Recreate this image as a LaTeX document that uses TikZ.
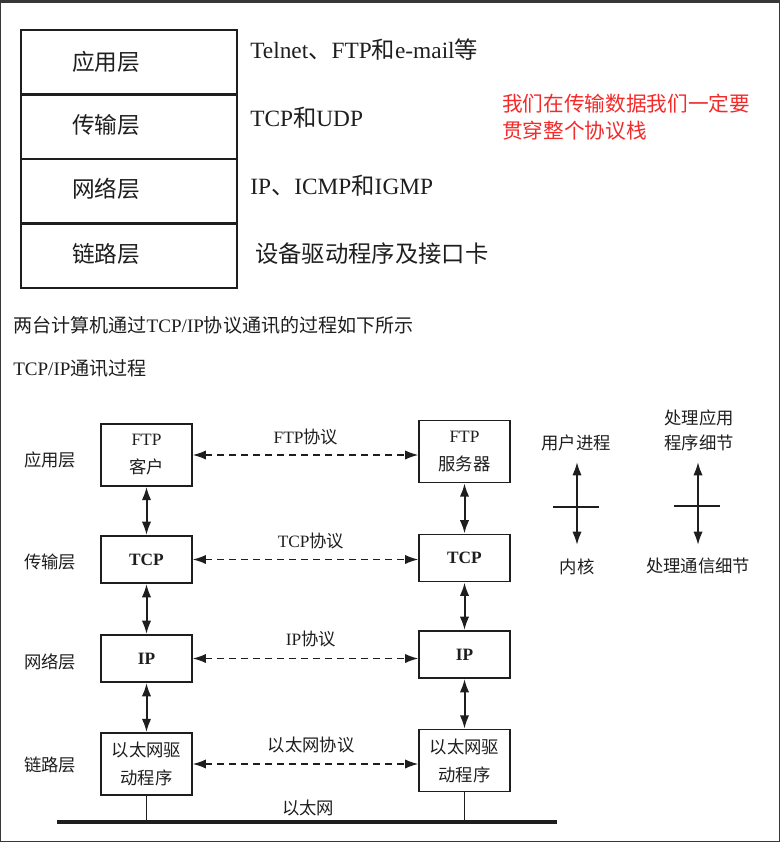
\documentclass[tikz,border=0pt]{standalone}
\usepackage{fontspec}
\setmainfont{Liberation Serif}
\newfontfamily\zh{Noto Sans CJK SC}
\usepackage{xcolor}
\usetikzlibrary{arrows.meta}
\definecolor{ink}{HTML}{1E1E1E}
\definecolor{note}{HTML}{F42A2A}
\definecolor{frame}{HTML}{383838}

\begin{document}
\begin{tikzpicture}[x=0.75pt,y=-0.75pt,
    cell/.style={draw=ink, line width=1.5pt, minimum width=162pt, minimum height=48.4pt, inner sep=0pt},
    lay/.style={text=ink, inner sep=0pt, font=\zh\fontsize{17}{20}\selectfont},
    desc/.style={text=ink, inner sep=0pt, anchor=west, font=\fontsize{17.5}{20}\selectfont},
    txt/.style={text=ink, inner sep=0pt, anchor=west, font=\fontsize{14.3}{18}\selectfont},
    small/.style={text=ink, inner sep=0pt, align=center, font=\fontsize{13}{19}\selectfont},
    box/.style={draw=ink, line width=1.2pt, minimum width=68pt, align=center, inner sep=0pt, text=ink, font=\fontsize{13}{21}\selectfont},
    tall/.style={box, minimum height=46.5pt},
    flat/.style={box, minimum height=35.5pt},
    updown/.style={ink, line width=1.5pt, {Latex[length=10pt,width=7pt]}-{Latex[length=10pt,width=7pt]}},
    proto/.style={ink, line width=1.3pt, dash pattern=on 5.5pt off 3.5pt, {Latex[length=10pt,width=7pt]}-{Latex[length=10pt,width=7pt]}}]
    \useasboundingbox (0,0) rectangle (780,842);
    \fill[frame] (0,0) rectangle (780,3);
    \draw[frame, line width=1.6pt] (0,0) rectangle (780,842);

    % layer stack
    \node[cell] (app) at (129,62.25) {};
    \node[cell] (trans) at (129,126.75) {};
    \node[cell] (net) at (129,191.25) {};
    \node[cell] (link) at (129,255.75) {};
    \node[lay] (appname) at (106,62) {应用层};
    \node[lay] (transname) at (106,125) {传输层};
    \node[lay] (netname) at (106,189) {网络层};
    \node[lay] (linkname) at (106,254) {链路层};
    \node[desc] (appdesc) at (250,50) {Telnet{\zh 、}FTP{\zh 和}e-mail{\zh 等}};
    \node[desc] (transdesc) at (250,118) {TCP{\zh 和}UDP};
    \node[desc] (netdesc) at (250,186) {IP{\zh 、}ICMP{\zh 和}IGMP};
    \node[desc] (linkdesc) at (255,254) {\zh 设备驱动程序及接口卡};

    \node[anchor=west, inner sep=0pt, align=left, text=note, font=\zh\fontsize{15.5}{20.3}\selectfont] (remark) at (502,117.5) {我们在传输数据我们一定要\\贯穿整个协议栈};

    \node[txt] (intro) at (13,325) {{\zh 两台计算机通过}TCP/IP{\zh 协议通讯的过程如下所示}};
    \node[txt] (title) at (13,368) {TCP/IP{\zh 通讯过程}};

    % two hosts
    \node[small] (l1) at (50,460) {\zh 应用层};
    \node[small] (l2) at (50,562) {\zh 传输层};
    \node[small] (l3) at (50,662) {\zh 网络层};
    \node[small] (l4) at (50,765) {\zh 链路层};

    \node[tall] (ftpc) at (146.5,455) {FTP\\{\zh 客户}};
    \node[flat] (tcpc) at (146.5,559.5) {\bfseries TCP};
    \node[flat] (ipc) at (146.5,658.5) {\bfseries IP};
    \node[tall] (ethc) at (146.5,764) {\zh 以太网驱\\\zh 动程序};

    \node[tall] (ftps) at (464.5,451.5) {FTP\\{\zh 服务器}};
    \node[flat] (tcps) at (464.5,558) {\bfseries TCP};
    \node[flat] (ips) at (464.5,654.5) {\bfseries IP};
    \node[tall] (eths) at (464.5,760.5) {\zh 以太网驱\\\zh 动程序};

    \draw[updown] (ftpc) -- (tcpc);
    \draw[updown] (tcpc) -- (ipc);
    \draw[updown] (ipc) -- (ethc);
    \draw[updown] (ftps) -- (tcps);
    \draw[updown] (tcps) -- (ips);
    \draw[updown] (ips) -- (eths);

    \draw[proto] (ftpc.east) -- (ftpc.east -| ftps.west);
    \draw[proto] (tcpc.east) -- (tcpc.east -| tcps.west);
    \draw[proto] (ipc.east) -- (ipc.east -| ips.west);
    \draw[proto] (ethc.east) -- (ethc.east -| eths.west);

    \node[small] (pftp) at (306,437) {FTP{\zh 协议}};
    \node[small] (ptcp) at (311,541) {TCP{\zh 协议}};
    \node[small] (pip) at (311,639) {IP{\zh 协议}};
    \node[small] (peth) at (311,745) {\zh 以太网协议};

    % the cable
    \coordinate (cablel) at (57,822);
    \coordinate (cabler) at (557,822);
    \draw[ink, line width=3pt] (cablel) -- (cabler);
    \draw[ink, line width=1pt] (ethc.south) -- (ethc.south |- cablel);
    \draw[ink, line width=1pt] (eths.south) -- (eths.south |- cablel);
    \node[small] (pcable) at (308,808) {\zh 以太网};

    % legend
    \node[small] (user) at (576,443) {\zh 用户进程};
    \node[small] (kernel) at (577,567) {\zh 内核};
    \coordinate (ua) at (577,462);
    \coordinate (ub) at (577,545);
    \draw[updown] (ua) -- (ub);
    \coordinate (uc) at (553,507);
    \coordinate (ud) at (599,507);
    \draw[ink, line width=1.3pt] (uc) -- (ud);

    \node[small] (appdet) at (699,430.5) {\zh 处理应用\\\zh 程序细节};
    \node[small] (comdet) at (698,566) {\zh 处理通信细节};
    \coordinate (aa) at (698,462);
    \coordinate (ab) at (698,545);
    \draw[updown] (aa) -- (ab);
    \coordinate (ac) at (674,506);
    \coordinate (ad) at (720,506);
    \draw[ink, line width=1.3pt] (ac) -- (ad);
\end{tikzpicture}
\end{document}
